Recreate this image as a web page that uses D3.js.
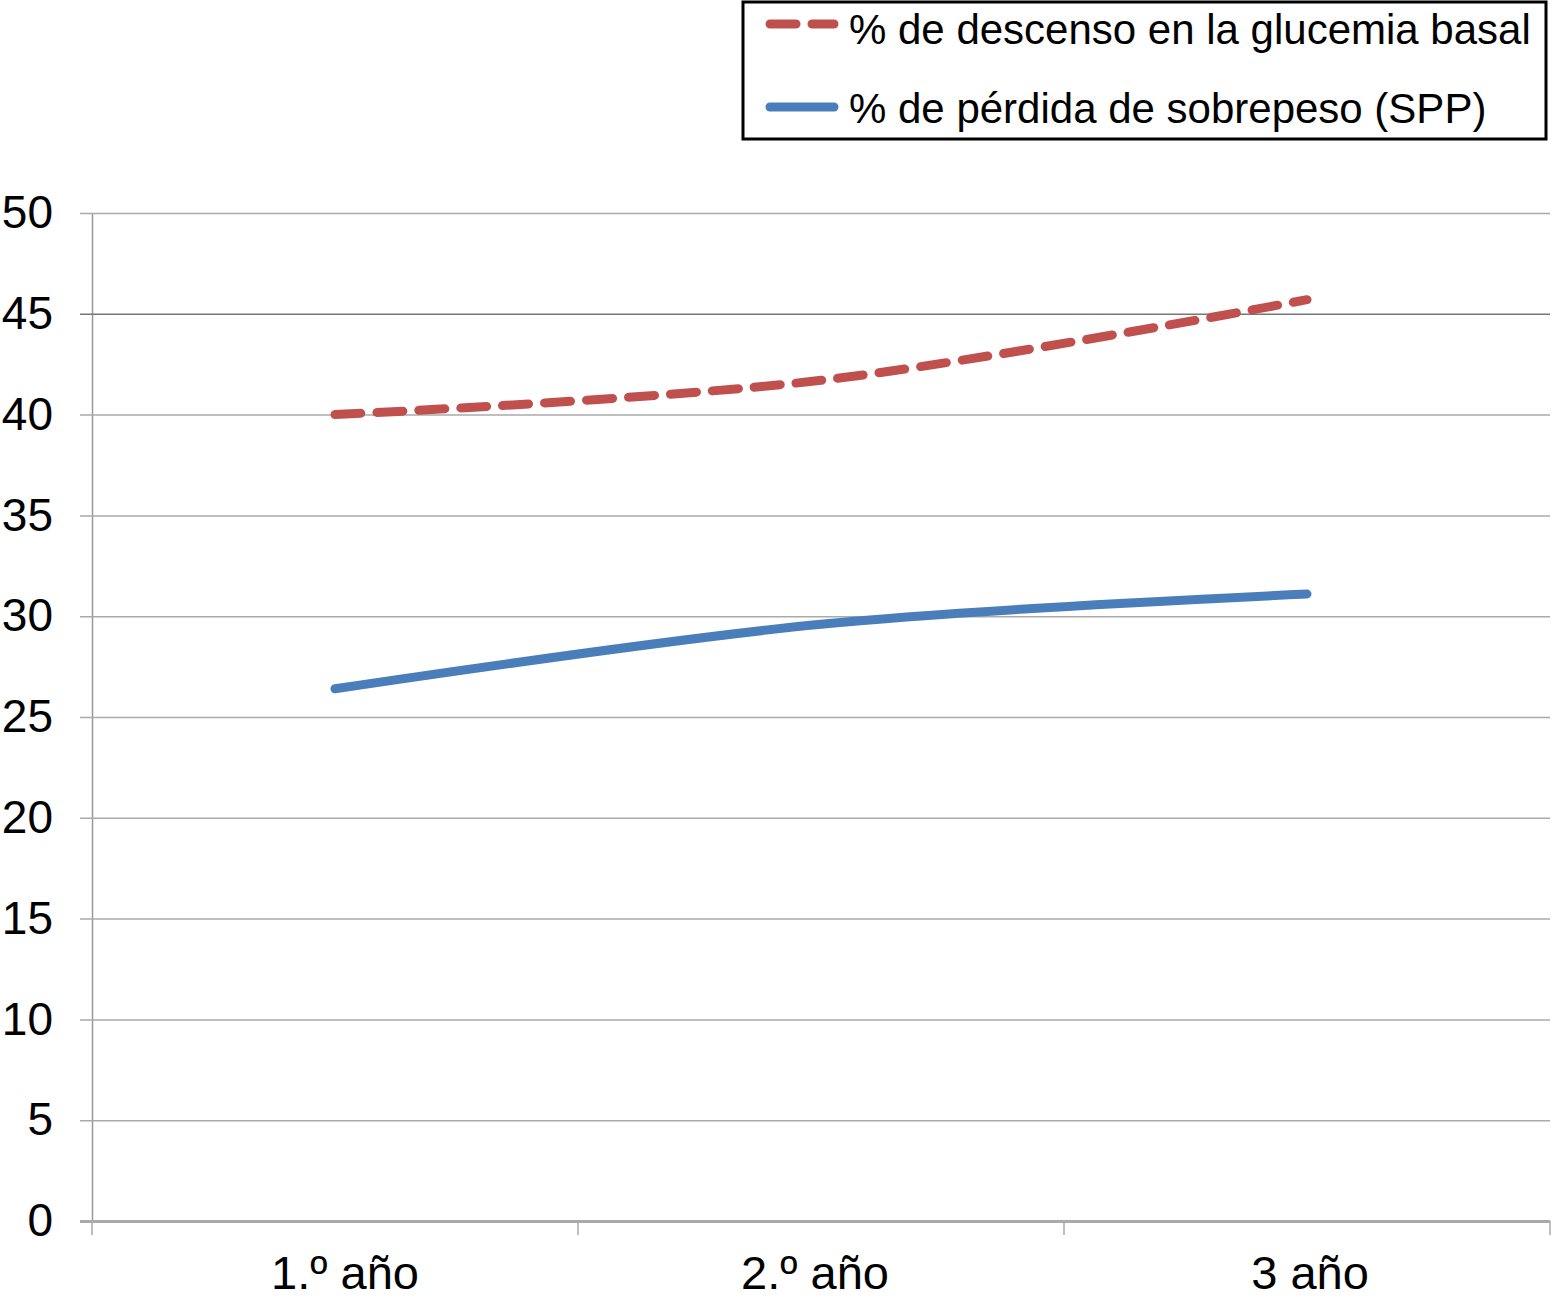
<!DOCTYPE html>
<html>
<head>
<meta charset="utf-8">
<script src="https://cdn.jsdelivr.net/npm/d3@7"></script>
<style>
  body { margin: 0; background: #fff; }
  text { font-family: "Liberation Sans", Arial, sans-serif; fill: #000; }
</style>
</head>
<body>
<div class="canva"></div>
<script>
// data
const categories = ["1.º año", "2.º año", "3 año"];
const glucemia = [40.0, 41.7, 45.7];
const sobrepeso = [26.4, 29.6, 31.1];
const yTicks = [0, 5, 10, 15, 20, 25, 30, 35, 40, 45, 50];
const seriesNames = ["% de descenso en la glucemia basal", "% de pérdida de sobrepeso (SPP)"];

const svg = d3.select(".canva").append("svg")
  .attr("width", 1555)
  .attr("height", 1313);

const plot = {left: 92, right: 1550, top: 213, bottom: 1221};

var x = d3.scaleBand()
  .domain(categories)
  .range([plot.left, plot.right]);

var y = d3.scaleLinear()
  .domain([0, 50])
  .range([plot.bottom, plot.top]);

// gridlines + y labels
var yAxis = svg.append("g")
  .attr("transform", `translate(${plot.left}, 0)`)
  .call(d3.axisLeft(y).tickValues(yTicks).tickSize(-(plot.right - plot.left)).tickPadding(39).tickSizeOuter(0));
yAxis.select(".domain").attr("stroke", "#999").attr("stroke-width", 1.5);
yAxis.selectAll(".tick line")
  .attr("x1", -12)
  .attr("stroke", d => d == 45 ? "#777" : "#aaa")
  .attr("stroke-width", d => d == 0 ? 3 : 1.5);
yAxis.selectAll(".tick text")
  .style("font-size", "46px")
  .style("font-family", "Liberation Sans, Arial, sans-serif")
  .attr("fill", "#000");

// x axis ticks between categories
var xTickPos = [plot.left].concat(categories.map(c => x(c) + x.bandwidth()));
svg.selectAll(".xtick")
  .data(xTickPos)
  .enter()
  .append("line")
  .attr("x1", d => d).attr("x2", d => d)
  .attr("y1", plot.bottom).attr("y2", plot.bottom + 14)
  .attr("stroke", "#aaa")
  .attr("stroke-width", 1.5);

svg.selectAll(".xlabel")
  .data(categories)
  .enter()
  .append("text")
  .attr("x", (d, i) => x(d) + x.bandwidth() / 2 + [10, -6, 3][i])
  .attr("y", plot.bottom + 68)
  .attr("text-anchor", "middle")
  .style("font-size", "47px")
  .text(d => d);

// lines
var line = d3.line()
  .x((d, i) => x(categories[i]) + x.bandwidth() / 2)
  .y(d => y(d))
  .curve(d3.curveCatmullRom);

svg.append("path")
  .datum(sobrepeso)
  .attr("d", line)
  .attr("fill", "none")
  .attr("stroke", "#4a7ebb")
  .attr("stroke-width", 9)
  .attr("stroke-linecap", "round");

svg.append("path")
  .datum(glucemia)
  .attr("d", line)
  .attr("fill", "none")
  .attr("stroke", "#c0504d")
  .attr("stroke-width", 9)
  .attr("stroke-dasharray", "26 16")
  .attr("stroke-linecap", "round");

// legend
var legend = svg.append("g");
legend.append("rect")
  .attr("x", 743).attr("y", 2)
  .attr("width", 803).attr("height", 137)
  .attr("fill", "#fff")
  .attr("stroke", "#000")
  .attr("stroke-width", 3);

legend.append("line")
  .attr("x1", 770).attr("x2", 834)
  .attr("y1", 24).attr("y2", 24)
  .attr("stroke", "#c0504d")
  .attr("stroke-width", 9)
  .attr("stroke-dasharray", "26 16")
  .attr("stroke-linecap", "round");
legend.append("line")
  .attr("x1", 770).attr("x2", 834)
  .attr("y1", 107).attr("y2", 107)
  .attr("stroke", "#4a7ebb")
  .attr("stroke-width", 9)
  .attr("stroke-linecap", "round");

legend.selectAll(".ltext")
  .data(seriesNames)
  .enter()
  .append("text")
  .attr("x", 849)
  .attr("y", (d, i) => 44 + i * 79)
  .style("font-size", "42px")
  .text(d => d);
</script>
</body>
</html>
